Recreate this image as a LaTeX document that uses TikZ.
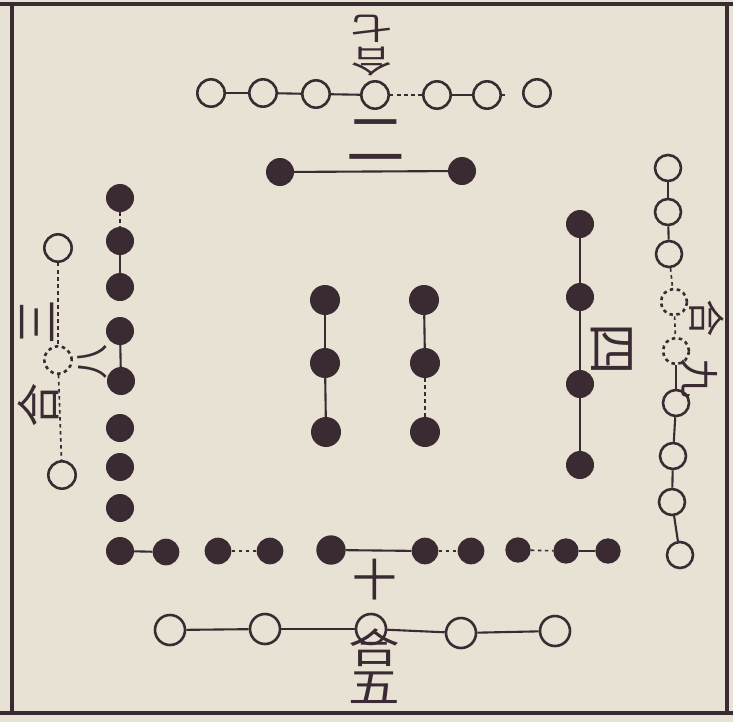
\documentclass[tikz,border=0pt]{standalone}
\usepackage{fontspec}
\newfontfamily\cjk{Noto Sans CJK SC}
\definecolor{paper}{HTML}{E7E2D4}
\definecolor{inkc}{HTML}{3A2A32}

\begin{document}
\begin{tikzpicture}[x=0.03cm, y=-0.03cm,
  wdot/.style={circle, draw=inkc, line width=2.2pt, fill=paper,
               minimum size=0.82cm, inner sep=0pt},
  bdot/.style={circle, fill=inkc, minimum size=0.84cm, inner sep=0pt},
  link/.style={draw=inkc, line width=1.8pt},
  faint/.style={draw=inkc, line width=1.4pt, dash pattern=on 3pt off 3pt},
  frame/.style={draw=inkc, line width=3pt},
  glyph/.style={text=inkc, inner sep=0pt, font=\cjk\fontsize{38}{38}\selectfont}
]

% Paper
\fill[paper] (0,0) rectangle (733,722);
\useasboundingbox (0,0) rectangle (733,722);

% Frame
\coordinate (fa) at (0,4);   \coordinate (fb) at (733,4);
\coordinate (fc) at (0,713); \coordinate (fd) at (733,713);
\coordinate (fl1) at (12,4); \coordinate (fl2) at (12,713);
\coordinate (fr1) at (727,4); \coordinate (fr2) at (727,713);
\draw[frame] (fa) -- (fb);
\draw[frame] (fc) -- (fd);
\draw[frame] (fl1) -- (fl2);
\draw[frame] (fr1) -- (fr2);

% Top: seven white
\node[wdot] (t1) at (211,93) {};
\node[wdot] (t2) at (263,93) {};
\node[wdot] (t3) at (316,94) {};
\node[wdot] (t4) at (375,95) {};
\node[wdot] (t5) at (437,95) {};
\node[wdot] (t6) at (487,95) {};
\node[wdot] (t7) at (537,93) {};
\coordinate (t6r) at (505,95);

% Top: two black
\node[bdot] (u1) at (280,172) {};
\node[bdot] (u2) at (462,171) {};

% Left: eight black
\node[bdot] (l1) at (120,198) {};
\node[bdot] (l2) at (120,241) {};
\node[bdot] (l3) at (120,287) {};
\node[bdot] (l4) at (120,331) {};
\node[bdot] (l5) at (121,381) {};
\node[bdot] (l6) at (120,428) {};
\node[bdot] (l7) at (120,467) {};
\node[bdot] (l8) at (120,508) {};

% Left: three white
\node[wdot] (w1) at (58,248) {};
\node[wdot, dashed] (w2) at (58,360) {};
\node[wdot] (w3) at (62,475) {};

% Bottom: ten black
\node[bdot] (d1) at (120,551) {};
\node[bdot, minimum size=0.8cm] (d2) at (166,552) {};
\node[bdot, minimum size=0.8cm] (d3) at (218,551) {};
\node[bdot, minimum size=0.8cm] (d4) at (270,551) {};
\node[bdot, minimum size=0.88cm] (d5) at (331,550) {};
\node[bdot, minimum size=0.8cm] (d6) at (425,551) {};
\node[bdot, minimum size=0.8cm] (d7) at (471,551) {};
\node[bdot, minimum size=0.76cm] (d8) at (518,550) {};
\node[bdot, minimum size=0.76cm] (d9) at (566,551) {};
\node[bdot, minimum size=0.76cm] (d10) at (608,551) {};

% Bottom: five white
\node[wdot, minimum size=0.9cm] (b1) at (170,630) {};
\node[wdot, minimum size=0.9cm] (b2) at (265,629) {};
\node[wdot, minimum size=0.9cm] (b3) at (371,629) {};
\node[wdot, minimum size=0.9cm] (b4) at (461,633) {};
\node[wdot, minimum size=0.9cm] (b5) at (555,631) {};

% Right: four black
\node[bdot] (r1) at (580,224) {};
\node[bdot] (r2) at (580,297) {};
\node[bdot] (r3) at (580,384) {};
\node[bdot] (r4) at (580,465) {};

% Right: nine white
\node[wdot, minimum size=0.78cm] (v1) at (668,168) {};
\node[wdot, minimum size=0.78cm] (v2) at (668,212) {};
\node[wdot, minimum size=0.78cm] (v3) at (669,254) {};
\node[wdot, minimum size=0.78cm, dashed] (v4) at (674,302) {};
\node[wdot, minimum size=0.78cm, dashed] (v5) at (676,351) {};
\node[wdot, minimum size=0.78cm] (v6) at (676,403) {};
\node[wdot, minimum size=0.78cm] (v7) at (673,456) {};
\node[wdot, minimum size=0.78cm] (v8) at (672,502) {};
\node[wdot, minimum size=0.78cm] (v9) at (680,555) {};

% Centre: two columns of three
\node[bdot, minimum size=0.9cm] (c1) at (325,300) {};
\node[bdot, minimum size=0.9cm] (c2) at (325,363) {};
\node[bdot, minimum size=0.9cm] (c3) at (326,432) {};
\node[bdot, minimum size=0.9cm] (c4) at (424,300) {};
\node[bdot, minimum size=0.9cm] (c5) at (425,363) {};
\node[bdot, minimum size=0.9cm] (c6) at (425,432) {};

% Labels
\node[glyph, rotate=180, xscale=1.3, font=\cjk\fontsize{27}{27}\selectfont] (q7) at (372,29) {七};
\node[glyph, rotate=180, xscale=1.3, font=\cjk\fontsize{27}{27}\selectfont] (qh) at (372,62) {合};
\node[glyph, font=\cjk\fontsize{50}{50}\selectfont] (q2) at (376,140) {二};
\node[glyph, rotate=90] (q3) at (37,322) {三};
\node[glyph, rotate=90, font=\cjk\fontsize{30}{30}\selectfont] (q8) at (92,362) {八};
\node[glyph, rotate=90] (qh3) at (38,405) {合};
\node[glyph, rotate=-90, font=\cjk\fontsize{44}{44}\selectfont] (q4) at (612,349) {四};
\node[glyph, rotate=-90, font=\cjk\fontsize{32}{32}\selectfont] (qh9) at (707,318) {合};
\node[glyph, rotate=-90, font=\cjk\fontsize{34}{34}\selectfont] (q9) at (699,378) {九};
\node[glyph] (q10) at (375,580) {十};
\node[glyph, yscale=0.8, font=\cjk\fontsize{44}{44}\selectfont] (qh5) at (374,648) {合};
\node[glyph, yscale=0.8, font=\cjk\fontsize{44}{44}\selectfont] (q5) at (374,688) {五};

% Links
\draw[link] (t1) -- (t2);
\draw[link] (t2) -- (t3);
\draw[link] (t3) -- (t4);
\draw[faint] (t4) -- (t5);
\draw[link] (t5) -- (t6);
\draw[link] (t6) -- (t6r);
\draw[link] (u1) -- (u2);
\draw[faint] (l1) -- (l2);
\draw[link] (l2) -- (l3);
\draw[link] (l4) -- (l5);
\draw[faint] (w1) -- (w2);
\draw[faint] (w2) -- (w3);
\draw[link] (d1) -- (d2);
\draw[faint] (d4) -- (d3);
\draw[link] (d5) -- (d6);
\draw[faint] (d6) -- (d7);
\draw[faint] (d8) -- (d9);
\draw[link] (d9) -- (d10);
\draw[link] (b1) -- (b2);
\draw[link] (b2) -- (b3);
\draw[link] (b3) -- (b4);
\draw[link] (b4) -- (b5);
\draw[link] (r1) -- (r2);
\draw[link] (r2) -- (r3);
\draw[link] (r3) -- (r4);
\draw[link] (v1) -- (v2);
\draw[link] (v2) -- (v3);
\draw[faint] (v3) -- (v4);
\draw[faint] (v4) -- (v5);
\draw[link] (v5) -- (v6);
\draw[link] (v6) -- (v7);
\draw[link] (v7) -- (v8);
\draw[link] (v8) -- (v9);
\draw[link] (c1) -- (c2);
\draw[link] (c2) -- (c3);
\draw[link] (c4) -- (c5);
\draw[faint] (c5) -- (c6);

\end{tikzpicture}
\end{document}
